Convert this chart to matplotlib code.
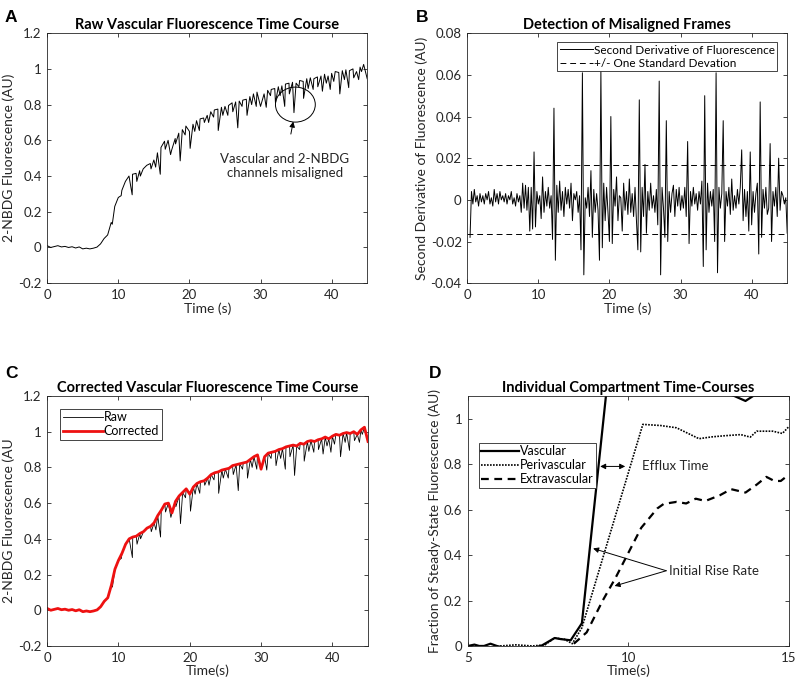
import numpy as np
import matplotlib
matplotlib.use("Agg")
import matplotlib.pyplot as plt
from matplotlib.patches import Ellipse
from matplotlib.ticker import FuncFormatter

plt.rcParams['font.family'] = ['Lato', 'DejaVu Sans']

## data ##

# corrected vascular fluorescence, every 0.5 s from 0 to 45 s
corr_t = np.arange(0, 45.01, 0.5)
corr_y = [0.010, 0.000, 0.005, 0.010, 0.003, 0.006, 0.000, 0.004, -0.003, 0.003,
          -0.008, -0.004, -0.008, -0.004, 0.002, 0.020, 0.050, 0.070, 0.140, 0.230,
          0.280, 0.320, 0.370, 0.400, 0.410, 0.415, 0.430, 0.440, 0.460, 0.470,
          0.490, 0.530, 0.560, 0.595, 0.600, 0.545, 0.610, 0.640, 0.660, 0.680,
          0.650, 0.690, 0.710, 0.720, 0.725, 0.740, 0.760, 0.770, 0.775, 0.785,
          0.790, 0.795, 0.810, 0.815, 0.820, 0.825, 0.830, 0.845, 0.860, 0.870,
          0.790, 0.860, 0.880, 0.885, 0.890, 0.900, 0.905, 0.915, 0.920, 0.925,
          0.920, 0.935, 0.930, 0.945, 0.950, 0.945, 0.955, 0.960, 0.970, 0.960,
          0.975, 0.985, 0.980, 0.990, 0.995, 0.990, 1.000, 0.985, 1.010, 1.025,
          0.945]

# misaligned frames (only in the raw trace)
dip_t = [9.15, 10.4, 11.95, 12.6, 13.1, 14.6, 15.25, 15.9, 16.6, 17.35, 18.05, 18.7,
         19.4, 20.1, 20.75, 21.4, 22.1, 22.7, 23.4, 24.05, 24.7, 25.4, 26.1, 26.8,
         27.4, 28.1, 28.75, 29.4, 30.8, 31.4, 32.1, 32.75, 33.4, 34.05, 34.7, 35.4,
         36.05, 36.7, 37.4, 38.05, 38.7, 39.25, 39.8, 40.3, 41.15, 41.8, 42.4, 43.1,
         43.8, 44.2]
dip_y = [0.13, 0.29, 0.295, 0.37, 0.40, 0.44, 0.45, 0.41, 0.55, 0.52, 0.58, 0.485,
         0.63, 0.555, 0.65, 0.655, 0.70, 0.70, 0.73, 0.655, 0.74, 0.74, 0.76, 0.67,
         0.79, 0.74, 0.80, 0.79, 0.785, 0.85, 0.81, 0.85, 0.79, 0.86, 0.755, 0.90,
         0.835, 0.89, 0.885, 0.90, 0.875, 0.92, 0.885, 0.93, 0.86, 0.94, 0.895, 0.95,
         0.94, 0.985]

# second derivative, every 0.2 s from 0.4 to 45 s
d2_t = np.arange(0.4, 45.001, 0.2)
d2_y = [-0.018, 0.004, -0.002, 0.005, -0.001, 0.002, -0.003, 0.003, -0.001, 0.002,
        -0.002, 0.003, 0.000, 0.004, -0.002, 0.001, -0.003, 0.005, -0.001, 0.003,
        -0.002, 0.004, 0.000, 0.002, -0.001, 0.003, -0.002, 0.002, 0.000, 0.004,
        -0.002, 0.001, -0.003, 0.003, -0.001, 0.002, -0.006, 0.008, -0.004, 0.007,
        -0.005, 0.006, -0.015, 0.006, -0.014, 0.023, -0.013, 0.004, -0.002, 0.002,
        -0.009, 0.011, -0.006, 0.004, -0.003, 0.006, -0.004, 0.002, -0.019, 0.044,
        -0.029, 0.007, -0.006, 0.009, -0.005, 0.004, -0.008, 0.006, -0.002, 0.005,
        -0.004, 0.008, -0.010, 0.003, 0.000, 0.004, -0.006, 0.002, -0.024, 0.061,
        -0.036, 0.001, -0.004, 0.006, -0.008, 0.014, -0.018, 0.005, -0.006, 0.003,
        -0.005, -0.029, 0.062, -0.023, 0.008, -0.010, 0.006, -0.006, -0.020, 0.040,
        -0.021, 0.005, -0.003, 0.011, -0.010, 0.002, 0.001, -0.015, 0.008, -0.005,
        0.004, -0.007, 0.010, -0.006, 0.003, -0.008, 0.006, -0.010, -0.024, 0.048,
        -0.025, 0.006, -0.008, 0.017, -0.016, 0.004, -0.005, 0.008, -0.004, 0.002,
        -0.006, 0.005, -0.012, 0.057, -0.036, 0.006, -0.004, -0.018, 0.038, -0.020,
        0.004, -0.006, 0.003, 0.007, -0.008, 0.005, -0.003, 0.006, -0.005, 0.002,
        -0.004, 0.006, -0.008, 0.028, -0.021, 0.004, -0.003, 0.006, -0.002, 0.003,
        -0.005, 0.004, -0.002, 0.009, -0.032, 0.050, -0.024, 0.008, -0.006, 0.004,
        -0.003, 0.005, -0.020, 0.061, -0.035, 0.006, -0.004, 0.003, 0.038, -0.020,
        0.004, -0.003, 0.006, -0.007, 0.010, -0.005, 0.002, -0.004, 0.005, -0.002,
        0.006, 0.024, -0.010, 0.005, -0.008, 0.004, -0.015, 0.023, -0.012, 0.004,
        -0.006, 0.003, 0.008, -0.026, 0.047, -0.018, 0.005, -0.004, 0.006, -0.007,
        -0.004, 0.027, -0.020, 0.004, -0.003, 0.006, -0.008, 0.020, -0.005, 0.004,
        0.002, -0.002, 0.001, -0.016]
std_dev = 0.0166

# compartment time courses
vasc_t = [5.0, 5.2, 5.35, 5.5, 5.7, 5.9, 6.2, 7.0, 7.3, 7.7, 7.9, 8.2, 8.55, 9.3,
          9.7, 10.5, 11.5, 12.5, 13.3, 13.65, 13.9, 15.0]
vasc_y = [0.0, 0.006, 0.0, 0.0, 0.01, 0.0, -0.01, -0.01, 0.002, 0.035, 0.03, 0.025,
          0.10, 1.10, 1.30, 1.28, 1.20, 1.14, 1.10, 1.078, 1.101, 1.101]
peri_t = [6.0, 6.5, 7.0, 7.4, 7.7, 8.0, 8.25, 8.55, 10.45, 11.0, 11.5, 12.2, 12.6,
          13.0, 13.5, 13.8, 14.0, 14.5, 14.8, 15.0]
peri_y = [0.0, 0.005, 0.0, 0.005, 0.035, 0.03, 0.01, 0.08, 0.975, 0.97, 0.96, 0.912,
          0.92, 0.925, 0.93, 0.919, 0.945, 0.945, 0.935, 0.965]
extra_t = [8.3, 8.7, 9.2, 9.6, 10.0, 10.4, 10.9, 11.1, 11.5, 11.8, 12.1, 12.4, 12.85,
           13.2, 13.65, 14.0, 14.3, 14.55, 14.75, 15.0]
extra_y = [0.01, 0.06, 0.2, 0.3, 0.41, 0.52, 0.605, 0.625, 0.634, 0.627, 0.648,
           0.638, 0.663, 0.69, 0.675, 0.71, 0.744, 0.726, 0.726, 0.754]

# raw = corrected frames plus the misaligned ones
raw_t = np.concatenate([corr_t, dip_t])
raw_y = np.concatenate([corr_y, dip_y])
order = np.argsort(raw_t)
raw_t = raw_t[order]
raw_y = raw_y[order]

## plotting ##

grey = '#262626'
fmt = FuncFormatter(lambda v, p: '%g' % round(v, 4))


def style(ax):
    ax.tick_params(direction='in', top=True, right=True, length=3, width=0.6,
                   colors=grey, labelsize=9.5, pad=4)
    for s in ax.spines.values():
        s.set_linewidth(0.6)
        s.set_color(grey)
    ax.yaxis.set_major_formatter(fmt)
    ax.xaxis.set_major_formatter(fmt)


def box(lg):
    lg.get_frame().set_edgecolor(grey)
    lg.get_frame().set_linewidth(0.6)


fig = plt.figure(figsize=(8, 6.84), dpi=100)
axA = fig.add_axes([0.059, 0.586, 0.400, 0.3655])
axB = fig.add_axes([0.584, 0.586, 0.400, 0.3655])
axC = fig.add_axes([0.059, 0.0556, 0.401, 0.3655])
axD = fig.add_axes([0.585, 0.0556, 0.401, 0.3655])

# A
axA.plot(raw_t, raw_y, color='black', lw=0.7)
axA.set_xlim(0, 45)
axA.set_ylim(-0.2, 1.2)
axA.set_yticks(np.arange(-0.2, 1.21, 0.2))
axA.set_xticks([0, 10, 20, 30, 40])
axA.set_title('Raw Vascular Fluorescence Time Course', fontsize=10.5, fontweight='bold', pad=3)
axA.set_xlabel('Time (s)', fontsize=10, color=grey, labelpad=1)
axA.set_ylabel('2-NBDG Fluorescence (AU)', fontsize=10, color=grey, labelpad=2)
axA.add_patch(Ellipse((34.9, 0.80), 5.6, 0.196, fill=False, lw=0.7, ec='black'))
axA.annotate('Vascular and 2-NBDG\nchannels misaligned', xy=(34.6, 0.705), xytext=(33.4, 0.455),
             ha='center', va='center', fontsize=9.5, color=grey, linespacing=1.2,
             arrowprops=dict(arrowstyle='-|>', lw=0.7, color='black', shrinkA=12, shrinkB=0,
                             mutation_scale=8))
style(axA)

# B
axB.plot(d2_t, d2_y, color='black', lw=0.7, label='Second Derivative of Fluorescence')
axB.axhline(std_dev, color='black', lw=0.7, ls=(0, (6, 4)), label='+/- One Standard Devation')
axB.axhline(-std_dev, color='black', lw=0.7, ls=(0, (6, 4)))
axB.set_xlim(0, 45)
axB.set_ylim(-0.04, 0.08)
axB.set_yticks(np.arange(-0.04, 0.081, 0.02))
axB.set_xticks([0, 10, 20, 30, 40])
axB.set_title('Detection of Misaligned Frames', fontsize=10.5, fontweight='bold', pad=3)
axB.set_xlabel('Time (s)', fontsize=10, color=grey, labelpad=1)
axB.set_ylabel('Second Derivative of Fluorescence (AU)', fontsize=10, color=grey, labelpad=2)
box(axB.legend(loc='upper right', bbox_to_anchor=(0.969, 0.964), borderaxespad=0,
               fontsize=8.5, handlelength=2.8, handletextpad=0.1, borderpad=0.2,
               labelspacing=0.2, fancybox=False, framealpha=1))
style(axB)

# C
axC.plot(raw_t, raw_y, color='black', lw=0.6, label='Raw')
axC.plot(corr_t, corr_y, color='#ee1111', lw=2, label='Corrected')
axC.set_xlim(0, 45)
axC.set_ylim(-0.2, 1.2)
axC.set_yticks(np.arange(-0.2, 1.21, 0.2))
axC.set_xticks([0, 10, 20, 30, 40])
axC.set_title('Corrected Vascular Fluorescence Time Course', fontsize=10.5, fontweight='bold', pad=3)
axC.set_xlabel('Time(s)', fontsize=10, color=grey, labelpad=1)
axC.set_ylabel('2-NBDG Fluorescence (AU', fontsize=10, color=grey, labelpad=2)
box(axC.legend(loc='upper left', bbox_to_anchor=(0.04, 0.948), borderaxespad=0,
               fontsize=9, handlelength=3.2, handletextpad=0.1, borderpad=0.2,
               labelspacing=0.15, fancybox=False, framealpha=1))
style(axC)

# D
axD.plot(vasc_t, vasc_y, color='black', lw=1.6, label='Vascular')
axD.plot(peri_t, peri_y, color='black', lw=1.2, ls=(0, (1, 0.8)), label='Perivascular')
axD.plot(extra_t, extra_y, color='black', lw=1.6, ls=(0, (3.5, 2.5)), label='Extravascular')
axD.set_xlim(5, 15)
axD.set_ylim(0, 1.1)
axD.set_yticks([0, 0.2, 0.4, 0.6, 0.8, 1])
axD.set_xticks([5, 10, 15])
axD.set_title('Individual Compartment Time-Courses', fontsize=10.5, fontweight='bold', pad=3)
axD.set_xlabel('Time(s)', fontsize=10, color=grey, labelpad=1)
axD.set_ylabel('Fraction of Steady-State Fluorescence (AU)', fontsize=10, color=grey, labelpad=2)
axD.annotate('', xy=(9.12, 0.79), xytext=(9.9, 0.79),
             arrowprops=dict(arrowstyle='<|-|>', lw=0.7, color='black', shrinkA=0, shrinkB=0,
                             mutation_scale=8))
axD.text(10.43, 0.79, 'Efflux Time', fontsize=9.5, color=grey, va='center', ha='left')
axD.text(11.28, 0.331, 'Initial Rise Rate', fontsize=9.5, color=grey, va='center', ha='left')
for tip in [(8.9, 0.429), (9.57, 0.264)]:
    axD.annotate('', xy=tip, xytext=(11.18, 0.331),
                 arrowprops=dict(arrowstyle='-|>', lw=0.7, color='black', shrinkA=0, shrinkB=0,
                                 mutation_scale=8))
box(axD.legend(loc='upper left', bbox_to_anchor=(0.034, 0.812), borderaxespad=0,
               fontsize=9, handlelength=3.0, handletextpad=0.1, borderpad=0.2,
               labelspacing=0.15, fancybox=False, framealpha=1))
style(axD)

# panel letters
for x, y, s in [(0.006, 0.985, 'A'), (0.52, 0.985, 'B'), (0.006, 0.465, 'C'), (0.536, 0.465, 'D')]:
    fig.text(x, y, s, fontsize=12.5, fontweight='bold', family='Liberation Sans', va='top')

fig.savefig('out.png', dpi=100)
